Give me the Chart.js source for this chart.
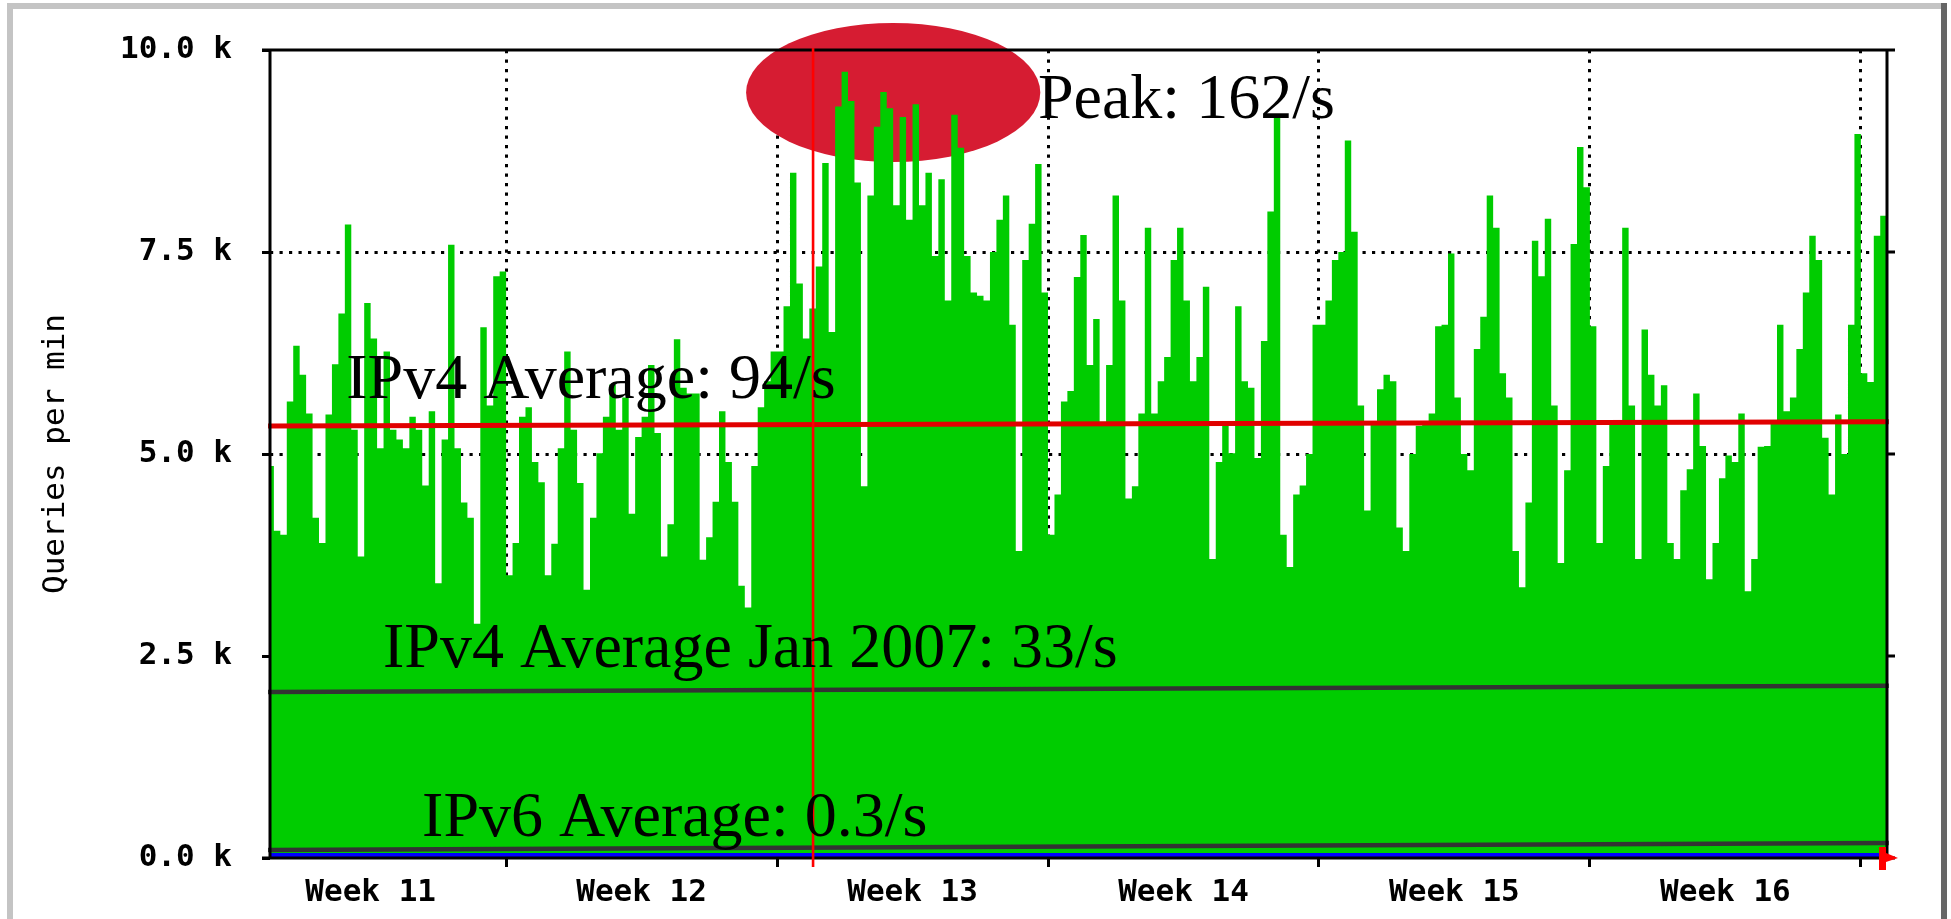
<!DOCTYPE html>
<html>
<head>
<meta charset="utf-8">
<title>Queries per min</title>
<script src="https://cdn.jsdelivr.net/npm/chart.js@4.4.1/dist/chart.umd.min.js"></script>
<style>
  html, body { margin: 0; padding: 0; background: #fff; }
  canvas { display: block; }
</style>
</head>
<body>
<canvas id="queries" width="1951" height="919"></canvas>
<script>
// IPv4 queries per min (thousands), one value per 4 hour bucket.
// Week 11 starts at day 0, the graph starts part way into its first day.
var firstBucket = 5;
var bucketsPerDay = 6;

var week11 = [4.85, 4.05, 4.0, 5.65, 6.34, 5.98, 5.5, 4.21, 3.9, 5.49, 6.11, 6.74,
    7.84, 5.3, 3.73, 6.87, 6.43, 5.07, 6.27, 5.3, 5.18, 5.07, 5.46, 5.3, 4.61, 5.53,
    3.4, 5.18, 7.59, 5.07, 4.4, 4.21, 2.9, 6.57, 5.6, 7.2, 7.26];
var week12 = [3.5, 3.9, 5.46, 5.58, 4.9, 4.65, 3.5, 3.89, 5.07, 6.27, 5.3, 4.64,
    3.32, 4.21, 5.01, 5.46, 5.86, 5.3, 5.7, 4.26, 5.21, 5.46, 6.1, 5.26, 3.73, 4.13,
    6.42, 5.82, 5.75, 5.75, 3.69, 3.97, 4.41, 5.53, 4.9, 4.41, 3.37, 3.1, 4.85, 5.58,
    5.9, 6.27];
var week13 = [6.27, 6.83, 8.48, 7.11, 6.43, 6.8, 7.32, 8.6, 6.51, 9.3, 9.73, 9.37,
    8.36, 4.6, 8.2, 9.05, 9.48, 9.28, 8.08, 9.17, 7.9, 9.33, 8.08, 8.48, 7.45, 8.4,
    6.9, 9.2, 8.79, 7.45, 7.0, 6.96, 6.9, 7.5, 7.9, 8.2, 6.6, 3.8, 7.4, 7.85, 8.59, 7.0];
var week14 = [4.0, 4.5, 5.65, 5.78, 7.19, 7.71, 6.1, 6.67, 5.4, 6.1, 8.2, 6.9,
    4.45, 4.6, 5.5, 7.8, 5.5, 5.9, 6.2, 7.4, 7.8, 6.9, 5.9, 6.2, 7.07, 3.7, 4.9, 5.4,
    5.01, 6.83, 5.9, 5.82, 4.95, 6.4, 8.0, 9.2, 4.0, 3.6, 4.5, 4.61, 5.0, 6.6];
var week15 = [6.6, 6.9, 7.4, 7.5, 8.88, 7.75, 5.6, 4.3, 5.4, 5.8, 5.98, 5.9,
    4.09, 3.8, 5.0, 5.35, 5.4, 5.5, 6.58, 6.6, 7.48, 5.7, 5.0, 4.8, 6.3, 6.7, 8.2, 7.8,
    6.0, 5.7, 3.8, 3.35, 4.4, 7.64, 7.2, 7.91, 5.6, 3.65, 4.8, 7.6, 8.8, 8.3];
var week16 = [6.58, 3.9, 4.85, 5.37, 5.37, 7.8, 5.6, 3.7, 6.54, 5.98, 5.6, 5.85,
    3.9, 3.7, 4.55, 4.81, 5.75, 5.1, 3.45, 3.9, 4.7, 4.98, 4.9, 5.5, 3.3, 3.7, 5.09,
    5.1, 5.37, 6.6, 5.53, 5.7, 6.3, 7.0, 7.7, 7.4, 5.2, 4.5, 5.49, 5.0, 6.6, 8.96];
var week17 = [6.0, 5.89, 7.7, 7.95];

// IPv6 traffic, barely above zero
var ipv6Times = [0.9, 7, 14, 21, 28, 35, 42.7];
var ipv6Values = [0.037, 0.037, 0.038, 0.037, 0.038, 0.037, 0.037];

// hand drawn average lines (start, end)
var avgTimes = [0.85, 42.72];
var ipv4Avg = [5.347, 5.400];
var ipv4AvgJan2007 = [2.054, 2.133];
var ipv6Avg = [0.099, 0.185];

var weekStarts = [7, 14, 21, 28, 35, 42];
var weekLabelAt = [3.5, 10.5, 17.5, 24.5, 31.5, 38.5];
var weekLabels = ['Week 11', 'Week 12', 'Week 13', 'Week 14', 'Week 15', 'Week 16'];
var yTicks = [0, 2.5, 5, 7.5, 10];

var notes = [
    {text: 'Peak: 162/s', x: 20.74, y: 9.158},
    {text: 'IPv4 Average: 94/s', x: 2.87, y: 5.693},
    {text: 'IPv4 Average Jan 2007: 33/s', x: 3.82, y: 2.364},
    {text: 'IPv6 Average: 0.3/s', x: 4.83, y: 0.272}
];
var peakMarker = {x: 17.0, y: 9.474, rx: 3.8, ry: 0.86};
var markerTime = 14.93;

var ipv4 = week11.concat(week12, week13, week14, week15, week16, week17);
var ipv4Points = ipv4.map(function (v, i) {
    return {x: (firstBucket + i) / bucketsPerDay, y: v};
});
ipv4Points.push({x: (firstBucket + ipv4.length) / bucketsPerDay, y: ipv4[ipv4.length - 1]});

function pairs(xs, ys) {
    return xs.map(function (x, i) { return {x: x, y: ys[i]}; });
}

var monoFont = {family: 'DejaVu Sans Mono', size: 31, weight: 'bold'};
var clear = 'rgba(0,0,0,0)';

var decor = {
    id: 'decor',
    beforeDraw: function (chart) {
        var ctx = chart.ctx;
        ctx.save();
        ctx.fillStyle = '#fff';
        ctx.fillRect(0, 0, chart.width, chart.height);
        ctx.fillStyle = '#c4c4c4';
        ctx.fillRect(7, 3, 1937, 6);
        ctx.fillRect(7, 3, 6, chart.height);
        ctx.fillStyle = '#666';
        ctx.fillRect(1941, 3, 6, chart.height);
        ctx.restore();
    },
    beforeDatasetsDraw: function (chart) {
        var x = chart.scales.x, y = chart.scales.y, ctx = chart.ctx;
        var cx = x.getPixelForValue(peakMarker.x);
        var cy = y.getPixelForValue(peakMarker.y);
        var rx = x.getPixelForValue(peakMarker.x + peakMarker.rx) - cx;
        var ry = cy - y.getPixelForValue(peakMarker.y + peakMarker.ry);
        ctx.save();
        ctx.fillStyle = '#d61c32';
        ctx.beginPath();
        ctx.ellipse(cx, cy, rx, ry, 0, 0, Math.PI * 2);
        ctx.fill();
        ctx.restore();
    },
    afterDraw: function (chart) {
        var a = chart.chartArea, ctx = chart.ctx;
        var x = chart.scales.x, y = chart.scales.y;
        ctx.save();
        // frame
        ctx.strokeStyle = '#000';
        ctx.lineWidth = 3;
        ctx.beginPath();
        ctx.moveTo(a.left - 8, a.top); ctx.lineTo(a.right + 8, a.top);
        ctx.moveTo(a.left, a.top); ctx.lineTo(a.left, a.bottom);
        ctx.moveTo(a.right, a.top); ctx.lineTo(a.right, a.bottom);
        ctx.moveTo(a.left - 8, a.bottom); ctx.lineTo(a.right - 8, a.bottom);
        yTicks.forEach(function (v) {
            var py = y.getPixelForValue(v);
            ctx.moveTo(a.right, py); ctx.lineTo(a.right + 8, py);
        });
        ctx.stroke();

        // marker line
        var mx = x.getPixelForValue(markerTime);
        ctx.strokeStyle = '#ff0000';
        ctx.lineWidth = 2.6;
        ctx.beginPath();
        ctx.moveTo(mx, a.top - 2);
        ctx.lineTo(mx, a.bottom + 9);
        ctx.stroke();

        // arrow at end of time axis
        ctx.fillStyle = '#ff0000';
        ctx.beginPath();
        ctx.moveTo(a.right - 8, a.bottom - 11);
        ctx.lineTo(a.right - 1, a.bottom - 11);
        ctx.lineTo(a.right - 1, a.bottom - 5);
        ctx.lineTo(a.right + 11, a.bottom);
        ctx.lineTo(a.right - 1, a.bottom + 4);
        ctx.lineTo(a.right - 1, a.bottom + 12);
        ctx.lineTo(a.right - 8, a.bottom + 12);
        ctx.closePath();
        ctx.fill();

        // annotations
        ctx.fillStyle = '#000';
        ctx.font = '64px "Liberation Serif"';
        ctx.textAlign = 'left';
        ctx.textBaseline = 'alphabetic';
        notes.forEach(function (n) {
            ctx.fillText(n.text, x.getPixelForValue(n.x), y.getPixelForValue(n.y));
        });
        ctx.restore();
    }
};

new Chart(document.getElementById('queries'), {
    type: 'line',
    data: {
        datasets: [
            {
                data: pairs(avgTimes, ipv4Avg),
                borderColor: '#e10000',
                borderWidth: 5,
                pointRadius: 0,
                clip: 4,
                order: 1
            },
            {
                data: pairs(avgTimes, ipv4AvgJan2007),
                borderColor: '#333333',
                borderWidth: 4.5,
                pointRadius: 0,
                clip: 4,
                order: 2
            },
            {
                data: pairs(avgTimes, ipv6Avg),
                borderColor: '#333333',
                borderWidth: 4.5,
                pointRadius: 0,
                clip: 4,
                order: 3
            },
            {
                data: pairs(ipv6Times, ipv6Values),
                borderColor: '#0000ff',
                borderWidth: 4,
                pointRadius: 0,
                order: 4
            },
            {
                data: ipv4Points,
                stepped: true,
                fill: 'origin',
                backgroundColor: '#00cc00',
                borderColor: clear,
                borderWidth: 0,
                pointRadius: 0,
                order: 10
            }
        ]
    },
    options: {
        responsive: false,
        animation: false,
        devicePixelRatio: 1,
        layout: {padding: {left: 0, top: 50, right: 64, bottom: 0}},
        plugins: {
            legend: {display: false},
            tooltip: {enabled: false}
        },
        scales: {
            x: {
                type: 'linear',
                position: 'bottom',
                min: 0.9,
                max: 42.675,
                z: 1,
                afterBuildTicks: function (scale) {
                    scale.ticks = weekStarts.concat(weekLabelAt)
                        .sort(function (p, q) { return p - q; })
                        .map(function (v) { return {value: v}; });
                },
                afterFit: function (scale) { scale.height = 61; },
                ticks: {
                    autoSkip: false,
                    maxRotation: 0,
                    minRotation: 0,
                    padding: 7,
                    color: '#000',
                    font: monoFont,
                    callback: function (value) {
                        var i = weekLabelAt.indexOf(value);
                        return i >= 0 ? weekLabels[i] : '';
                    }
                },
                grid: {
                    lineWidth: 3,
                    tickLength: 9,
                    tickWidth: 3,
                    color: function (c) {
                        return c.tick && weekStarts.indexOf(c.tick.value) >= 0 ? '#000' : clear;
                    },
                    tickColor: function (c) {
                        return c.tick && weekStarts.indexOf(c.tick.value) >= 0 ? '#000' : clear;
                    }
                },
                border: {display: false, dash: [3.2, 6.3]}
            },
            y: {
                min: 0,
                max: 10,
                z: 1,
                afterBuildTicks: function (scale) {
                    scale.ticks = yTicks.map(function (v) { return {value: v}; });
                },
                afterFit: function (scale) { scale.width = 270; },
                ticks: {
                    padding: 30,
                    color: '#000',
                    font: monoFont,
                    callback: function (value) { return value.toFixed(1) + ' k'; }
                },
                title: {
                    display: true,
                    text: 'Queries per min',
                    color: '#000',
                    font: {family: 'DejaVu Sans Mono', size: 31},
                    padding: {top: 37, bottom: 0}
                },
                grid: {
                    lineWidth: 3,
                    tickLength: 8,
                    tickWidth: 3,
                    tickColor: '#000',
                    color: function (c) {
                        return c.tick && (c.tick.value === 0 || c.tick.value === 10) ? clear : '#000';
                    }
                },
                border: {display: false, dash: [3.2, 6.3]}
            }
        }
    },
    plugins: [decor]
});
</script>
</body>
</html>
